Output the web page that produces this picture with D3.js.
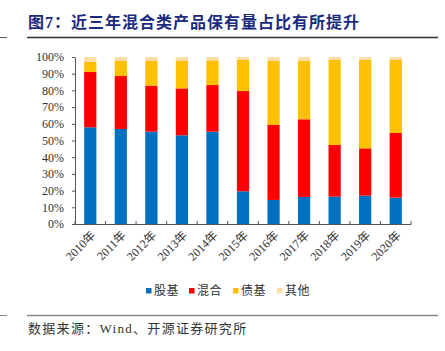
<!DOCTYPE html>
<html>
<head>
<meta charset="utf-8">
<script src="https://cdn.jsdelivr.net/npm/d3@7/dist/d3.min.js"></script>
<style>
  body { margin: 0; background: #fff; }
  svg { display: block; }
</style>
</head>
<body>
<svg width="445" height="351"></svg>
<script>
var years = ["2010年", "2011年", "2012年", "2013年", "2014年", "2015年", "2016年", "2017年", "2018年", "2019年", "2020年"];
var seriesNames = ["股基", "混合", "债基", "其他"];
var stockFund = [57.9, 56.9, 55.3, 53.1, 55.3, 19.6, 14.4, 16.2, 16.4, 17.0, 15.8];
var mixedFund = [33.1, 31.7, 27.5, 28.1, 27.9, 60.0, 44.9, 46.5, 30.9, 28.3, 38.7];
var bondFund = [6.0, 9.0, 14.8, 16.4, 14.8, 18.6, 38.3, 35.1, 50.9, 52.9, 43.7];
var otherFund = [3.0, 2.4, 2.4, 2.4, 2.0, 1.8, 2.4, 2.2, 1.8, 1.8, 1.8];
var yTicks = [0, 10, 20, 30, 40, 50, 60, 70, 80, 90, 100];

var serif = "'Liberation Serif','Noto Sans CJK SC',serif";
var svg = d3.select("svg");

// table for d3.stack
var table = years.map(function(y, i) {
  return { year: y, "股基": stockFund[i], "混合": mixedFund[i], "债基": bondFund[i], "其他": otherFund[i] };
});

var x = d3.scaleBand().domain(years).range([75, 411]).paddingInner(0.6).paddingOuter(0.3);
var y = d3.scaleLinear().domain([0, 100]).range([224, 57]);
var z = d3.scaleOrdinal().domain(seriesNames).range(["#0070C0", "#FF0000", "#FFC000", "#FFDDA6"]);

// title + rules
svg.append("text").attr("x", 28).attr("y", 28)
  .attr("font-family", serif).attr("font-weight", "bold").attr("font-size", 16)
  .attr("letter-spacing", 1).attr("fill", "#1b2a7e").text("图7：近三年混合类产品保有量占比有所提升");
svg.append("line").attr("x1", 0).attr("x2", 7).attr("y1", 37.5).attr("y2", 37.5).attr("stroke", "#555").attr("stroke-width", 1);
svg.append("line").attr("x1", 27).attr("x2", 438).attr("y1", 37.5).attr("y2", 37.5).attr("stroke", "#333").attr("stroke-width", 1.3);

// bars
svg.append("g").selectAll("g")
  .data(d3.stack().keys(seriesNames)(table))
  .enter().append("g")
  .attr("fill", function(d) { return z(d.key); })
  .selectAll("rect")
  .data(function(d) { return d; })
  .enter().append("rect")
  .attr("x", function(d) { return x(d.data.year); })
  .attr("width", x.bandwidth())
  .attr("y", function(d) { return y(d[1]); })
  .attr("height", function(d) { return y(d[0]) - y(d[1]); });

// y axis
var yAxis = svg.append("g").attr("transform", "translate(75,0)")
  .call(d3.axisLeft(y).tickValues(yTicks).tickSize(3).tickSizeOuter(0).tickPadding(8).tickFormat(function(d) { return d + "%"; }));
yAxis.select(".domain").attr("stroke", "#555");
yAxis.selectAll(".tick line").attr("stroke", "#555");
yAxis.selectAll("text").attr("font-family", serif).attr("font-size", 12).attr("fill", "#333");

// x axis with ticks at band edges pointing up
var xg = svg.append("g");
xg.append("line").attr("x1", 75).attr("x2", 411).attr("y1", 224.5).attr("y2", 224.5).attr("stroke", "#555");
var edges = years.map(function(d) { return x(d) - x.step() * 0.3; }).concat([x(years[years.length - 1]) + x.bandwidth() + x.step() * 0.3]);
xg.selectAll(".edge").data(edges).enter().append("line")
  .attr("x1", function(d) { return d; }).attr("x2", function(d) { return d; })
  .attr("y1", 221).attr("y2", 224.5).attr("stroke", "#555");
xg.selectAll(".lab").data(years).enter().append("text")
  .attr("transform", function(d) { return "translate(" + (x(d) + x.bandwidth() / 2 + 3) + ",233)rotate(-45)"; })
  .attr("text-anchor", "end")
  .attr("dy", "0.35em")
  .attr("font-family", serif).attr("font-size", 12).attr("fill", "#333")
  .text(function(d) { return d; });

// legend
var legendX = [146, 189, 233, 277];
var leg = svg.append("g").selectAll("g").data(seriesNames).enter().append("g")
  .attr("transform", function(d, i) { return "translate(" + legendX[i] + ",291)"; });
leg.append("rect").attr("x", 0).attr("y", -3).attr("width", 5.5).attr("height", 5.5).attr("fill", function(d) { return z(d); });
leg.append("text").attr("x", 8).attr("dy", "0.36em")
  .attr("font-family", serif).attr("font-size", 12).attr("letter-spacing", 0.5).attr("fill", "#333")
  .text(function(d) { return d; });

// source
svg.append("line").attr("x1", 0).attr("x2", 7).attr("y1", 315.5).attr("y2", 315.5).attr("stroke", "#888").attr("stroke-width", 1);
svg.append("line").attr("x1", 27).attr("x2", 438).attr("y1", 315.5).attr("y2", 315.5).attr("stroke", "#888").attr("stroke-width", 1.3);
svg.append("text").attr("x", 28).attr("y", 333)
  .attr("font-family", serif).attr("font-size", 13).attr("letter-spacing", 1.3).attr("fill", "#333")
  .text("数据来源：Wind、开源证券研究所");
</script>
</body>
</html>
